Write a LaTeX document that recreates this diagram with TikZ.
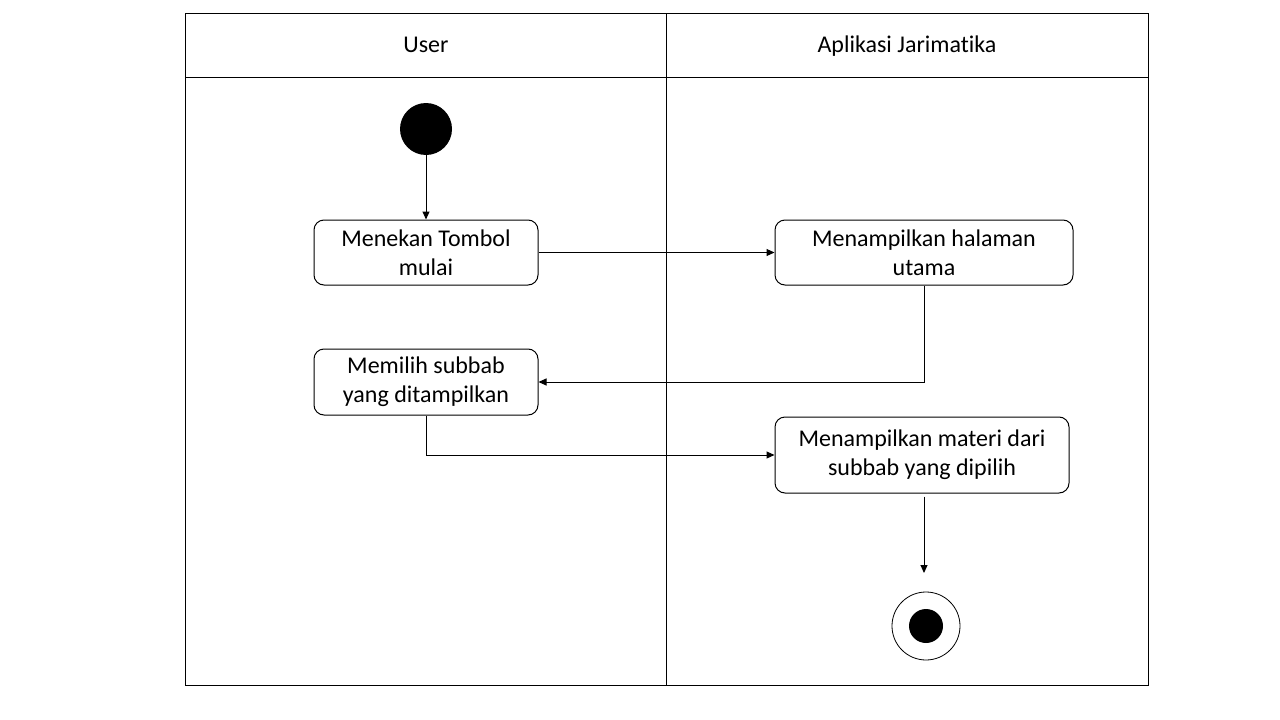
\documentclass[tikz,border=0pt]{standalone}
\usepackage{fontspec}
\setmainfont[Ligatures={NoCommon}]{Carlito}
\usetikzlibrary{arrows.meta}
\begin{document}
\begin{tikzpicture}[x=1pt,y=-1pt,
  every node/.style={font=\fontsize{24}{29}\selectfont},
  actbox/.style={draw,line width=1pt,rounded corners=10pt,align=center,inner sep=0pt},
  conn/.style={line width=1pt,-{Triangle[length=8pt,width=7pt]}},
  lane/.style={line width=1pt},
  lanehead/.style={anchor=base}]
\useasboundingbox (0,0) rectangle (1280,720);
% swimlanes
\draw[lane] (185,13) rectangle (1148,685);
\draw[lane] (185,77) -- (1148,77);
\draw[lane] (666,13) -- (666,685);
\node (huser) [lanehead] at (426,52) {User};
\node (happ) [lanehead] at (907,52) {Aplikasi Jarimatika};
% start
\node (start) [circle,fill=black,minimum size=52pt,inner sep=0pt] at (426,129) {};
% activities
\node (b1) [actbox,minimum width=224pt,minimum height=65pt] at (426,252.5) {Menekan Tombol\\mulai};
\node (b2) [actbox,minimum width=298pt,minimum height=65pt] at (924,252.5) {Menampilkan halaman\\utama};
\node (b3) [actbox,minimum width=224pt,minimum height=66pt] at (426,382) {Memilih subbab\\yang ditampilkan};
\node (b4) [actbox,minimum width=294pt,minimum height=76pt] at (922,455) {Menampilkan materi dari\\subbab yang dipilih};
% end
\node (endo) [circle,draw,line width=0.8pt,minimum size=68pt,inner sep=0pt] at (926,626) {};
\node (endi) [circle,fill=black,minimum size=34pt,inner sep=0pt] at (926,626) {};
\coordinate (endarr) at (924,573);
% connectors
\draw[conn] (start.south) -- (b1.north);
\draw[conn] (b1.east) -- (b2.west);
\draw[conn] (b2.south) |- (b3.east);
\draw[conn] (b3.south) |- (b4.west);
\draw[conn] ([yshift=-3pt]b4.south -| endarr) -- (endarr);
\end{tikzpicture}
\end{document}
